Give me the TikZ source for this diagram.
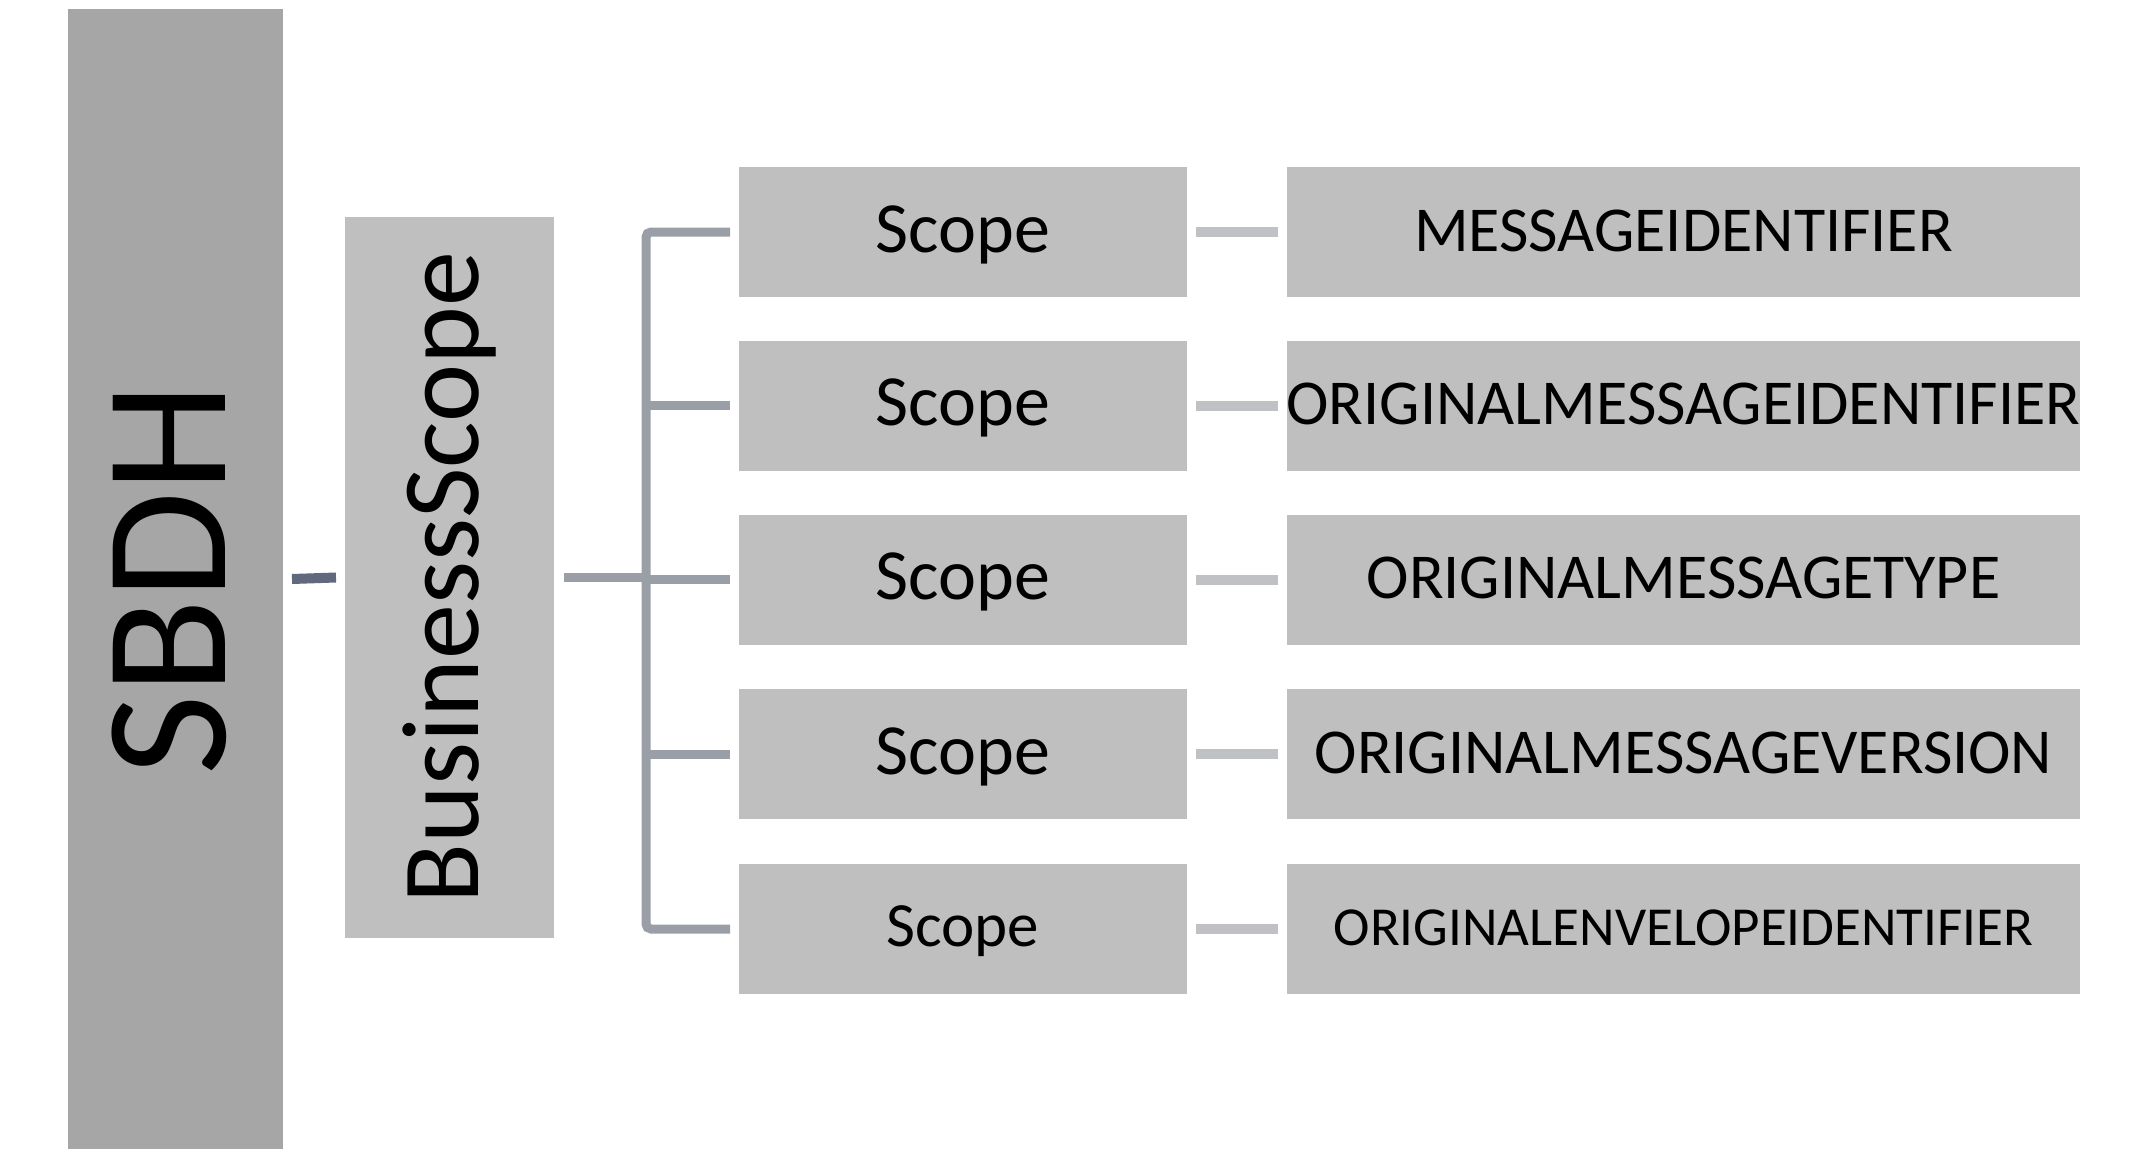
\documentclass[tikz,border=0pt]{standalone}
\usepackage{fontspec}
\setmainfont{Carlito}
\usetikzlibrary{calc}
\definecolor{boxdark}{HTML}{A6A6A6}
\definecolor{boxlight}{HTML}{BFBFBF}
\definecolor{linkdark}{HTML}{606A7C}
\definecolor{linkmid}{HTML}{9A9EA6}
\definecolor{linklight}{HTML}{C0C1C5}
\begin{document}
\begin{tikzpicture}[x=1pt,y=-1pt,
  box/.style={inner sep=0pt, outer sep=0pt, draw=none, fill=boxlight},
  txt/.style={inner sep=0pt, anchor=base},
  scopebox/.style={box, minimum width=448, minimum height=130},
  valbox/.style={box, minimum width=793, minimum height=130},
  conndark/.style={draw=linkdark, line width=10pt},
  connmid/.style={draw=linkmid, line width=9pt},
  connlight/.style={draw=linklight, line width=10pt}]
\useasboundingbox (0,0) rectangle (2130,1159);
% main boxes
\node[box, fill=boxdark, minimum width=215, minimum height=1140] (sbdh) at (175.5,579)
  {\fontsize{175}{175}\selectfont\rotatebox{90}{SBDH\rule[-14pt]{0pt}{14pt}}};
\node[box, minimum width=209, minimum height=721] (bs) at (449.5,577.5)
  {\fontsize{110}{110}\selectfont\rotatebox{90}{BusinessScope}};
% scope boxes
\node[scopebox] (s1) at (963,232)   {};
\node[scopebox] (s2) at (963,405.5) {};
\node[scopebox] (s3) at (963,579.5) {};
\node[scopebox] (s4) at (963,754)   {};
\node[scopebox] (s5) at (963,929)   {};
\node[txt, font=\fontsize{72}{72}\selectfont] (t1) at ($(s1)+(0,20)$) {Scope};
\node[txt, font=\fontsize{72}{72}\selectfont] (t2) at ($(s2)+(0,20)$) {Scope};
\node[txt, font=\fontsize{72}{72}\selectfont] (t3) at ($(s3)+(0,20)$) {Scope};
\node[txt, font=\fontsize{72}{72}\selectfont] (t4) at ($(s4)+(0,20)$) {Scope};
\node[txt, font=\fontsize{63}{63}\selectfont] (t5) at ($(s5)+(0,17)$) {Scope};
% value boxes
\node[valbox] (r1) at (1683.5,232)   {};
\node[valbox] (r2) at (1683.5,405.5) {};
\node[valbox] (r3) at (1683.5,579.5) {};
\node[valbox] (r4) at (1683.5,754)   {};
\node[valbox] (r5) at (1683.5,929)   {};
\node[txt, font=\fontsize{64}{64}\selectfont] (v1) at ($(r1)+(0,19)$) {MESSAGEIDENTIFIER};
\node[txt, font=\fontsize{64}{64}\selectfont] (v2) at ($(r2)+(0,19)$) {ORIGINALMESSAGEIDENTIFIER};
\node[txt, font=\fontsize{64}{64}\selectfont] (v3) at ($(r3)+(0,19)$) {ORIGINALMESSAGETYPE};
\node[txt, font=\fontsize{64}{64}\selectfont] (v4) at ($(r4)+(0,19)$) {ORIGINALMESSAGEVERSION};
\node[txt, font=\fontsize{55}{55}\selectfont] (v5) at ($(r5)+(0,16)$) {ORIGINALENVELOPEIDENTIFIER};
% connectors
\draw[conndark] ($(sbdh.east)+(9,0)$) -- ($(bs.west)+(-9,0)$);
\coordinate (jn) at (646,577.5);
\draw[connmid] ($(bs.east)+(10,0)$) -- (jn);
\draw[connmid, rounded corners=5] ($(s1.west)+(-9,0)$) -| (jn |- s5.west) -- ($(s5.west)+(-9,0)$);
\foreach \i in {2,3,4}{
  \draw[connmid] (jn |- s\i.west) -- ($(s\i.west)+(-9,0)$);
}
\foreach \i in {1,...,5}{
  \draw[connlight] ($(s\i.east)+(9,0)$) -- ($(r\i.west)+(-9,0)$);
}
\end{tikzpicture}
\end{document}
